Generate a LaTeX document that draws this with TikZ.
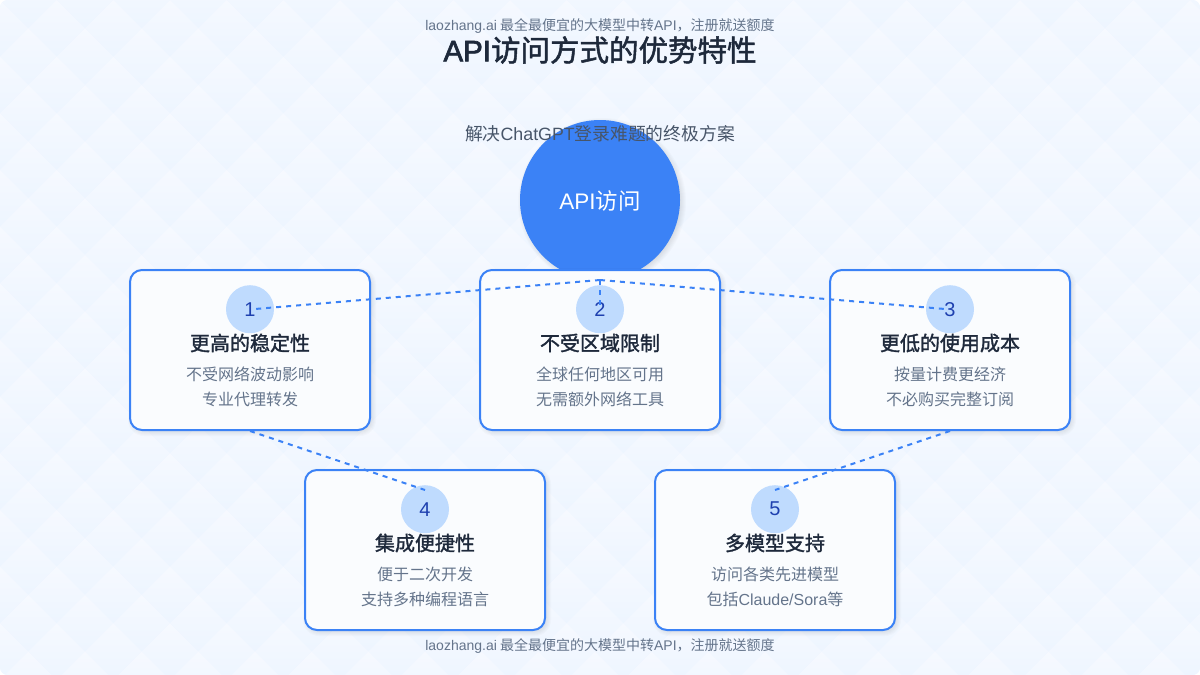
\documentclass[tikz,border=0pt]{standalone}
\usepackage{fontspec}
\usepackage{xcolor}
\setmainfont{Noto Sans CJK SC}
\newfontfamily\latinfont{Liberation Sans}
\newfontfamily\heavyfont[FakeBold=1.6]{Noto Sans CJK SC}
\newfontfamily\heavylatin[FakeBold=2.2]{Liberation Sans}
\usetikzlibrary{positioning}
\definecolor{bluemain}{HTML}{3B82F6}
\definecolor{bluesoft}{HTML}{BFDBFE}
\definecolor{bluedark}{HTML}{1E40AF}
\definecolor{inkdark}{HTML}{1E293B}
\definecolor{inkmid}{HTML}{475569}
\definecolor{inklight}{HTML}{64748B}
\definecolor{cardfill}{HTML}{FAFCFE}
\definecolor{diamondtop}{HTML}{F6F9FF}
\definecolor{diamondbottom}{HTML}{EDF5FF}
\tikzset{
    feature-box/.style = {draw=bluemain, fill=cardfill, line width=2pt, rectangle, rounded corners=12pt, minimum width=240pt, minimum height=160pt, inner sep=0pt},
    soft-shadow/.style = {fill=black, fill opacity=0.014},
    number-dot/.style = {circle, fill=bluesoft, minimum size=48pt, inner sep=0pt, text=bluedark, font=\fontsize{20}{24}\selectfont},
    feature-title/.style = {text=inkdark, inner sep=0pt, font=\fontsize{20}{24}\selectfont\heavyfont},
    feature-text/.style = {text=inklight, inner sep=0pt, align=center, font=\fontsize{16}{25}\selectfont},
    hub-circle/.style = {circle, fill=bluemain, minimum size=160pt, inner sep=0pt},
    brand-text/.style = {text=inklight, inner sep=0pt, font=\fontsize{14}{17}\selectfont},
    link-line/.style = {draw=bluemain, line width=2pt, dash pattern=on 5pt off 5pt},
}

\begin{document}
\begin{tikzpicture}[x=1pt,y=-1pt]
\useasboundingbox (0,0) rectangle (1200,675);
\fill[white] (0,0) rectangle (1200,675);
\begin{scope}
\clip[rounded corners=8pt] (0,0) rectangle (1200,675);
\fill[diamondbottom] (0,0) rectangle (1200,675);
\foreach \row in {0,...,24} {
    \foreach \col in {0,...,22} {
        \pgfmathsetmacro{\cx}{\col*56.67-mod(\row+1,2)*28.33}
        \pgfmathsetmacro{\cy}{\row*28.33}
        \shade[top color=diamondtop, bottom color=diamondbottom] (\cx,\cy-28.33) -- (\cx+28.33,\cy) -- (\cx,\cy+28.33) -- (\cx-28.33,\cy) -- cycle;
    }
}
\end{scope}

\node[brand-text] (brandtop) at (600,25.8) {{\latinfont laozhang.ai} 最全最便宜的大模型中转{\latinfont API}，注册就送额度};
\node[text=inkdark, inner sep=0pt, font=\fontsize{29.5}{36}\selectfont\heavyfont] (pagetitle) at (600,50) {{\heavylatin API}访问方式的优势特性};
\foreach \s in {-2,...,4} {
    \fill[soft-shadow] (602,202) circle[radius=80+\s];
}
\node[hub-circle] (hub) at (600,200) {};
\node[text=white, inner sep=0pt, font=\fontsize{22.5}{26}\selectfont] (hublabel) at (600,201) {{\latinfont API}访问};
\node[text=inkmid, inner sep=0pt, font=\fontsize{17.8}{22}\selectfont] (subtitle) at (600,134) {解决{\latinfont ChatGPT}登录难题的终极方案};

\foreach \id/\x/\y/\name/\lineone/\linetwo in {
    1/250/350/更高的稳定性/不受网络波动影响/专业代理转发,
    2/600/350/不受区域限制/全球任何地区可用/无需额外网络工具,
    3/950/350/更低的使用成本/按量计费更经济/不必购买完整订阅,
    4/425/550/集成便捷性/便于二次开发/支持多种编程语言,
    5/775/550/多模型支持/访问各类先进模型/包括{\latinfont Claude/Sora}等} {
    \foreach \s in {-2,...,4} {
        \fill[soft-shadow, rounded corners=12+\s] (\x-118-\s,\y-78-\s) rectangle (\x+122+\s,\y+82+\s);
    }
    \node[feature-box] (card\id) at (\x,\y) {};
    \node[number-dot, below=16pt of card\id.north] (num\id) {\latinfont\id};
    \node[feature-title] (title\id) at ([yshift=-74pt]card\id.north) {\name};
    \node[feature-text] (text\id) at ([yshift=-118pt]card\id.north) {\lineone\\\linetwo};
}

\node[brand-text] (brandbottom) at (600,645.8) {{\latinfont laozhang.ai} 最全最便宜的大模型中转{\latinfont API}，注册就送额度};

\coordinate (joint) at (600,280);
\coordinate (end1) at (255,309);
\coordinate (end2) at (600,305);
\coordinate (end3) at (945,309);
\coordinate (end4) at (425,490);
\coordinate (end5) at (775,490);
\draw[link-line] (joint) -- (end1);
\draw[link-line] (joint) -- (end2);
\draw[link-line] (joint) -- (end3);
\draw[link-line] (card1.south) -- (end4);
\draw[link-line] (card3.south) -- (end5);
\end{tikzpicture}
\end{document}
